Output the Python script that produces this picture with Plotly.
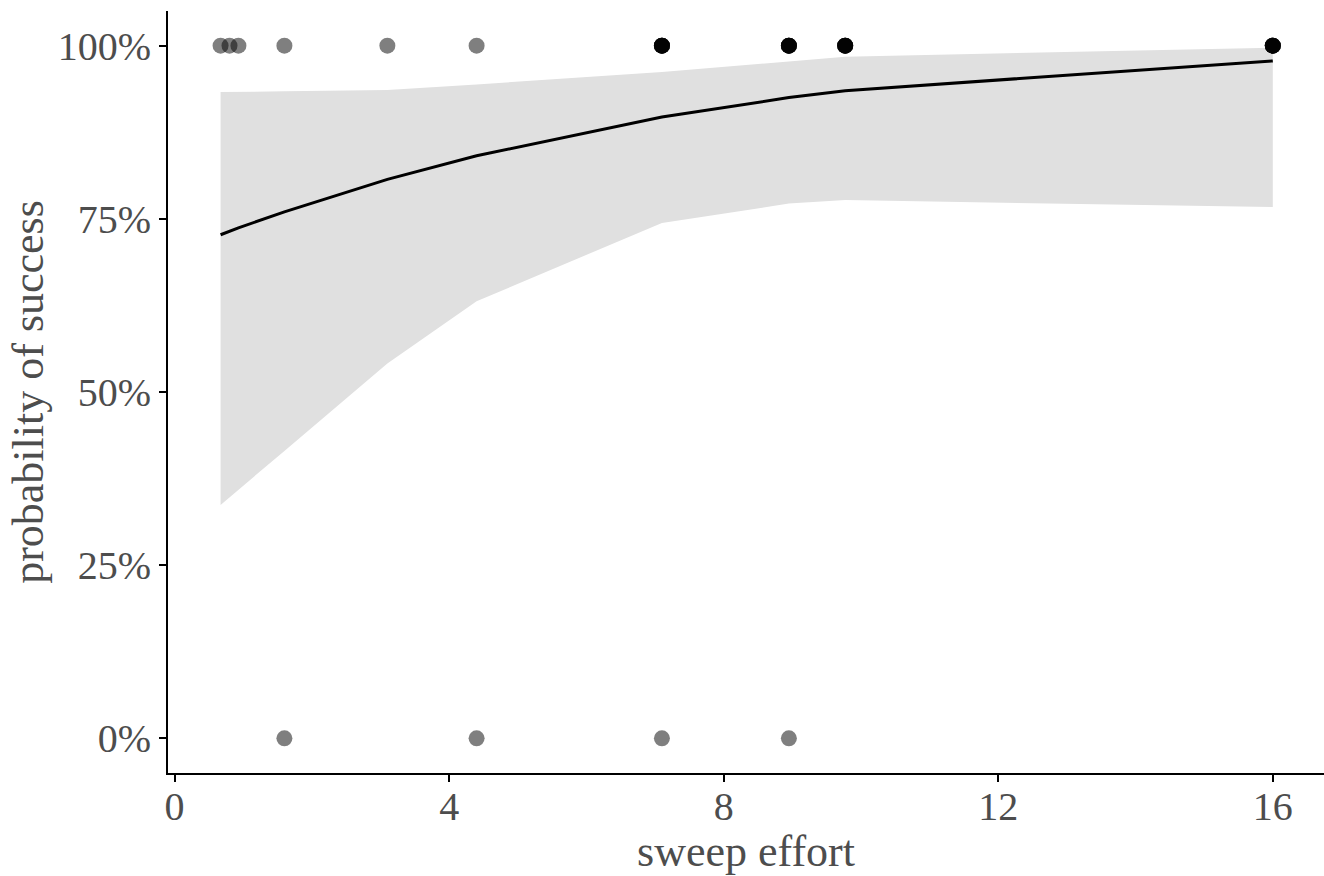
import plotly.graph_objects as go

# Observed data (sweep effort, success 0/1)
obs_x = [0.67, 0.8, 0.93, 1.6, 3.1, 4.4,
         7.1, 7.1, 7.1, 7.1, 7.1, 7.1,
         8.95, 8.95, 8.95, 8.95, 8.95, 8.95,
         9.77, 9.77, 9.77, 9.77, 9.77, 9.77,
         16, 16, 16, 16, 16, 16,
         1.6, 4.4, 7.1, 8.95]
obs_y = [1, 1, 1, 1, 1, 1,
         1, 1, 1, 1, 1, 1,
         1, 1, 1, 1, 1, 1,
         1, 1, 1, 1, 1, 1,
         1, 1, 1, 1, 1, 1,
         0, 0, 0, 0]

# Fitted curve and confidence band at the observed x values
fit_x = [0.67, 0.8, 0.93, 1.6, 3.1, 4.4, 7.1, 8.95, 9.77, 16]
fit_y = [0.727, 0.732, 0.737, 0.760, 0.807, 0.841, 0.897, 0.925, 0.935, 0.978]
fit_lo = [0.337, 0.348, 0.359, 0.415, 0.541, 0.631, 0.744, 0.772, 0.777, 0.767]
fit_hi = [0.933, 0.933, 0.933, 0.934, 0.936, 0.944, 0.962, 0.978, 0.984, 0.997]

x_ticks = [0, 4, 8, 12, 16]
y_ticks = [0, 0.25, 0.5, 0.75, 1]
y_tick_text = ["0%", "25%", "50%", "75%", "100%"]

fig = go.Figure()
fig.add_trace(go.Scatter(x=fit_x, y=fit_lo, mode="lines", line=dict(width=0),
                         showlegend=False, hoverinfo="skip"))
fig.add_trace(go.Scatter(x=fit_x, y=fit_hi, mode="lines", line=dict(width=0),
                         fill="tonexty", fillcolor="#e0e0e0",
                         showlegend=False, hoverinfo="skip"))
fig.add_trace(go.Scatter(x=fit_x, y=fit_y, mode="lines",
                         line=dict(color="black", width=3), showlegend=False))
fig.add_trace(go.Scatter(x=obs_x, y=obs_y, mode="markers",
                         marker=dict(color="rgba(0,0,0,0.5)", size=16, line=dict(width=0)),
                         showlegend=False))

font_family = "Liberation Serif"
fig.update_layout(
    width=1324, height=876,
    paper_bgcolor="white", plot_bgcolor="white",
    margin=dict(l=168, r=0, t=11, b=103),
    font=dict(family=font_family, color="#4d4d4d"),
    xaxis=dict(range=[-0.096, 16.746], tickvals=x_ticks, ticks="outside",
               ticklen=7, tickwidth=2, tickcolor="black",
               ticklabelstandoff=-10,
               showline=True, linecolor="black", linewidth=2,
               showgrid=False, zeroline=False,
               tickfont=dict(size=40, color="#4d4d4d", family=font_family),
               title=dict(text="sweep effort", standoff=16,
                          font=dict(size=44, color="#4d4d4d", family=font_family))),
    yaxis=dict(range=[-0.05, 1.05], tickvals=y_ticks, ticktext=y_tick_text,
               ticks="outside", ticklen=7, tickwidth=2, tickcolor="black",
               showline=True, linecolor="black", linewidth=2,
               showgrid=False, zeroline=False,
               tickfont=dict(size=40, color="#4d4d4d", family=font_family),
               title=dict(text="probability of success", standoff=0,
                          font=dict(size=44, color="#4d4d4d", family=font_family))),
)

fig.write_html("out.html")
